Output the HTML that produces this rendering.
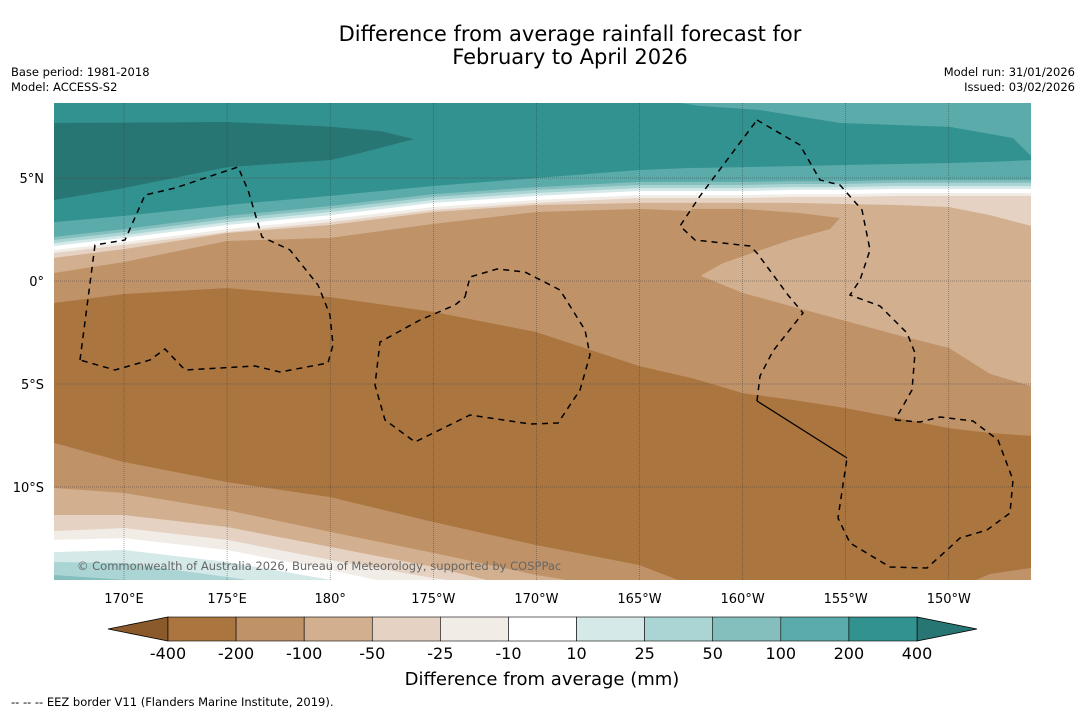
<!DOCTYPE html>
<html><head><meta charset="utf-8">
<style>
html,body{margin:0;padding:0;background:#fff;}
svg{display:block;font-family:"DejaVu Sans","Liberation Sans",sans-serif;}
</style></head>
<body>
<svg id="chart" width="1085" height="713" viewBox="0 0 1085 713" xmlns="http://www.w3.org/2000/svg">
<rect width="1085" height="713" fill="#fff"/>
<text x="570" y="41" font-size="21" text-anchor="middle" fill="#000">Difference from average rainfall forecast for</text>
<text x="570" y="64" font-size="21" text-anchor="middle" fill="#000">February to April 2026</text>
<text x="11" y="76" font-size="11.5">Base period: 1981-2018</text>
<text x="11" y="91" font-size="11.5">Model: ACCESS-S2</text>
<text x="1075" y="76" font-size="11.5" text-anchor="end">Model run: 31/01/2026</text>
<text x="1075" y="91" font-size="11.5" text-anchor="end">Issued: 03/02/2026</text>
<defs><clipPath id="mapclip"><rect x="54" y="103" width="977" height="477"/></clipPath></defs>
<g id="map" clip-path="url(#mapclip)"></g>
<g id="axes"></g>
<g id="cbar"></g>
<text x="542" y="685" font-size="18" text-anchor="middle">Difference from average (mm)</text>
<text x="11" y="706" font-size="11.5">--  --  -- EEZ border V11 (Flanders Marine Institute, 2019).</text>
</svg>
<script>
const NS="http://www.w3.org/2000/svg";
// sample longitudes (degrees east) for contour boundaries
const lons=[166.6,170,175,180,185,190,195,197.5,198,200,202.5,205,207.5,210,212,214];
// contour boundary latitudes (north to south)
const c100N=[2.86,3.16,3.69,4.13,4.61,5.00,5.39,5.49,5.49,5.53,5.58,5.63,5.68,5.73,5.78,5.87];
const c50N=[2.14,2.52,3.16,3.64,4.22,4.56,4.81,4.81,4.81,4.81,4.85,4.85,4.90,4.90,4.90,4.90];
const c25N=[1.99,2.38,3.01,3.50,4.08,4.42,4.66,4.66,4.66,4.66,4.71,4.71,4.76,4.76,4.76,4.76];
const c10N=[1.84,2.23,2.86,3.35,3.93,4.27,4.51,4.51,4.51,4.51,4.56,4.56,4.61,4.61,4.61,4.61];
const cm10N=[1.70,2.09,2.72,3.20,3.79,4.13,4.37,4.37,4.37,4.37,4.42,4.42,4.47,4.47,4.47,4.47];
const cm25N=[1.50,1.89,2.52,3.01,3.59,3.93,4.17,4.17,4.17,4.17,4.22,4.22,4.27,4.27,4.27,4.27];
const cm50N=[1.36,1.75,2.38,2.86,3.45,3.79,4.03,4.03,4.03,4.03,4.08,4.08,4.13,4.13,4.13,4.13];
const cm100N=[1.12,1.55,2.33,2.72,3.35,3.69,3.79,3.79,3.79,3.79,3.79,3.74,3.69,3.59,3.20,2.67];
const cm200N=[0.39,0.92,1.94,2.09,2.77,3.35,3.50,3.40,0.24,-0.58,-1.26,-1.94,-2.62,-3.25,-4.51,-5.10];
const cm400=[-1.07,-0.63,-0.34,-0.78,-1.50,-2.48,-4.13,-4.71,-4.85,-5.44,-5.78,-6.17,-6.65,-7.14,-7.38,-7.52];
const cm200S=[-7.86,-8.79,-9.76,-10.49,-11.70,-12.82,-13.79,-14.76,-14.90,-15.1,-15.1,-15.1,-15.1,-15.1,-14.22,-13.93];
const cm100S=[-10.05,-10.29,-11.12,-12.18,-13.20,-14.27,-15.1,-15.1,-15.1,-15.1,-15.1,-15.1,-15.1,-15.1,-15.1,-15.1];
const cm50S=[-11.36,-11.36,-11.94,-12.91,-13.88,-15.1,-15.1,-15.1,-15.1,-15.1,-15.1,-15.1,-15.1,-15.1,-15.1,-15.1];
const cm25S=[-12.14,-11.99,-12.57,-13.54,-14.42,-15.1,-15.1,-15.1,-15.1,-15.1,-15.1,-15.1,-15.1,-15.1,-15.1,-15.1];
const cm10S=[-12.57,-12.48,-13.06,-14.03,-15.1,-15.1,-15.1,-15.1,-15.1,-15.1,-15.1,-15.1,-15.1,-15.1,-15.1,-15.1];
const c10S=[-13.16,-13.06,-13.64,-14.5,-15.1,-15.1,-15.1,-15.1,-15.1,-15.1,-15.1,-15.1,-15.1,-15.1,-15.1,-15.1];
const c25S=[-13.64,-13.69,-14.37,-15.1,-15.1,-15.1,-15.1,-15.1,-15.1,-15.1,-15.1,-15.1,-15.1,-15.1,-15.1,-15.1];
const c50S=[-14.27,-14.51,-15.1,-15.1,-15.1,-15.1,-15.1,-15.1,-15.1,-15.1,-15.1,-15.1,-15.1,-15.1,-15.1,-15.1];
// closed regions [lon,lat]
const over400Region=[[166.6,7.67],[175,7.72],[179.6,7.52],[182.4,7.28],[184.06,6.89],[181.45,6.21],[180,5.87],[175,5.53],[170,4.51],[166.6,3.93]];
const topRight100Region=[[196.96,8.64],[214.2,8.64],[214.2,5.87],[213.1,6.94],[210.06,7.48],[204.72,7.67],[200.84,8.30],[197.93,8.50]];
const sliver200Region=[[197.5,3.50],[200,3.50],[202.78,3.30],[204.72,3.06],[204.24,2.52],[202.3,1.99],[199.05,0.87],[197.93,0.24]];
// colour scale
const cbLevels=["-400","-200","-100","-50","-25","-10","10","25","50","100","200","400"];
const cbColors=["#ab753f","#c09268","#d2b08f","#e5d2c2","#f2ece7","#ffffff","#d4e9e8","#abd5d4","#84bfbe","#5aabaa","#32928f"];
const cbUnder="#8b5a2b", cbOver="#287674";
const lonTicks=[170,175,180,185,190,195,200,205,210];
const lonTickLabels=["170°E","175°E","180°","175°W","170°W","165°W","160°W","155°W","150°W"];
const latTicks=[5,0,-5,-10];
const latTickLabels=["5°N","0°","5°S","10°S"];

const X=lon=>124+(lon-170)*20.62;
const Y=lat=>281-lat*20.6;
const map=document.getElementById('map');
function mk(tag,attrs,parent){const e=document.createElementNS(NS,tag);for(const k in attrs)e.setAttribute(k,attrs[k]);parent.appendChild(e);return e;}

const bg=mk('rect',{x:54,y:103,width:977,height:477,fill:'#32928f'},map);


function region(pts,color,name){
  const p=mk('polygon',{points:pts.map(q=>X(q[0]).toFixed(1)+','+Y(q[1]).toFixed(1)).join(' '),fill:color},map);
  
  
}
region(over400Region,'#287674','band-over-400');
region(topRight100Region,'#5aabaa','band-100-200-north');
function band(lats,color,name){
  let pts=lons.map((l,i)=>X(l).toFixed(1)+','+Y(lats[i]).toFixed(1));
  pts.push(X(215)+','+Y(lats[lats.length-1]));
  pts.push(X(215)+',600');pts.push('40,600');pts.push('40,'+Y(lats[0]));
  const p=mk('polygon',{points:pts.join(' '),fill:color},map);
  
  
}
band(c100N,'#5aabaa','band-100-200');
band(c50N,'#84bfbe','band-50-100');
band(c25N,'#abd5d4','band-25-50');
band(c10N,'#d4e9e8','band-10-25');
band(cm10N,'#ffffff','band-neutral');
band(cm25N,'#f2ece7','band-minus-10-25');
band(cm50N,'#e5d2c2','band-minus-25-50');
band(cm100N,'#d2b08f','band-minus-50-100');
band(cm200N,'#c09268','band-minus-100-200');
region(sliver200Region,'#c09268','band-minus-100-200-sliver');
band(cm400,'#ab753f','band-minus-200-400');
band(cm200S,'#c09268','band-minus-100-200-south');
band(cm100S,'#d2b08f','band-minus-50-100-south');
band(cm50S,'#e5d2c2','band-minus-25-50-south');
band(cm25S,'#f2ece7','band-minus-10-25-south');
band(cm10S,'#ffffff','band-neutral-south');
band(c10S,'#d4e9e8','band-10-25-south');
band(c25S,'#abd5d4','band-25-50-south');
band(c50S,'#84bfbe','band-50-100-south');

// EEZ borders
const eez=[
"80,360 95,245 125,240 145,195 175,188 238,167 248,190 262,237 290,250 318,285 330,315 333,345 328,363 280,372 255,366 185,370 165,349 150,360 115,370 80,360",
"465,297 470,277 497,269 525,272 560,290 585,330 590,355 580,390 558,423 530,424 470,415 415,442 385,420 375,385 380,342 420,320 455,305 465,297",
"757,120 800,145 820,180 840,185 862,210 870,250 860,280 850,295 880,306 907,333 915,353 912,390 895,420",
"895,420 920,422 940,417 973,421 998,440 1013,480 1010,513 987,530 960,538 947,550 927,568 890,567 850,543 838,518 847,458",
"757,401 760,376 773,351 803,313 788,295 757,253 750,246 695,240 680,226 700,196 757,120"];
eez.forEach((pts,i)=>{
  const l=mk('polyline',{points:pts,fill:'none',stroke:'#000','stroke-width':1.5,'stroke-dasharray':'6,5'},map);
  
  
});
const solid=mk('polyline',{points:"757,401 847,458",fill:'none',stroke:'#000','stroke-width':1.3},map);



// grid
lonTicks.forEach(l=>{const g=mk('line',{x1:X(l),x2:X(l),y1:103,y2:580,stroke:'#333','stroke-width':0.5,'stroke-dasharray':'1,1','stroke-opacity':0.8},map);

});
latTicks.forEach(l=>{const g=mk('line',{x1:54,x2:1031,y1:Y(l),y2:Y(l),stroke:'#333','stroke-width':0.5,'stroke-dasharray':'1,1','stroke-opacity':0.8},map);

});

const cp=mk('text',{x:77,y:570,'font-size':11.5,fill:'#666'},map);
cp.textContent='© Commonwealth of Australia 2026, Bureau of Meteorology, supported by COSPPac';



const axes=document.getElementById('axes');
lonTicks.forEach((l,i)=>{const t=mk('text',{x:X(l),y:603,'font-size':13,'text-anchor':'middle'},axes);t.textContent=lonTickLabels[i];

});
latTicks.forEach((l,i)=>{const t=mk('text',{x:44,y:Y(l)+5,'font-size':13,'text-anchor':'end'},axes);t.textContent=latTickLabels[i];

});

// colorbar
const cb=document.getElementById('cbar');
const cx0=168,cx1=917,cy0=617,cy1=641,bw=(cx1-cx0)/cbColors.length;
const lt=mk('polygon',{points:`108,629 ${cx0},${cy0} ${cx0},${cy1}`,fill:cbUnder,stroke:'#000','stroke-width':0.8},cb);


const rt=mk('polygon',{points:`977,629 ${cx1},${cy0} ${cx1},${cy1}`,fill:cbOver,stroke:'#000','stroke-width':0.8},cb);


cbColors.forEach((c,i)=>{const r=mk('rect',{x:cx0+i*bw,y:cy0,width:bw,height:cy1-cy0,fill:c,stroke:'#000','stroke-width':0.6},cb);

});
cbLevels.forEach((s,i)=>{const t=mk('text',{x:cx0+i*bw,y:659,'font-size':16,'text-anchor':'middle'},cb);t.textContent=s;

});
</script>
</body></html>
